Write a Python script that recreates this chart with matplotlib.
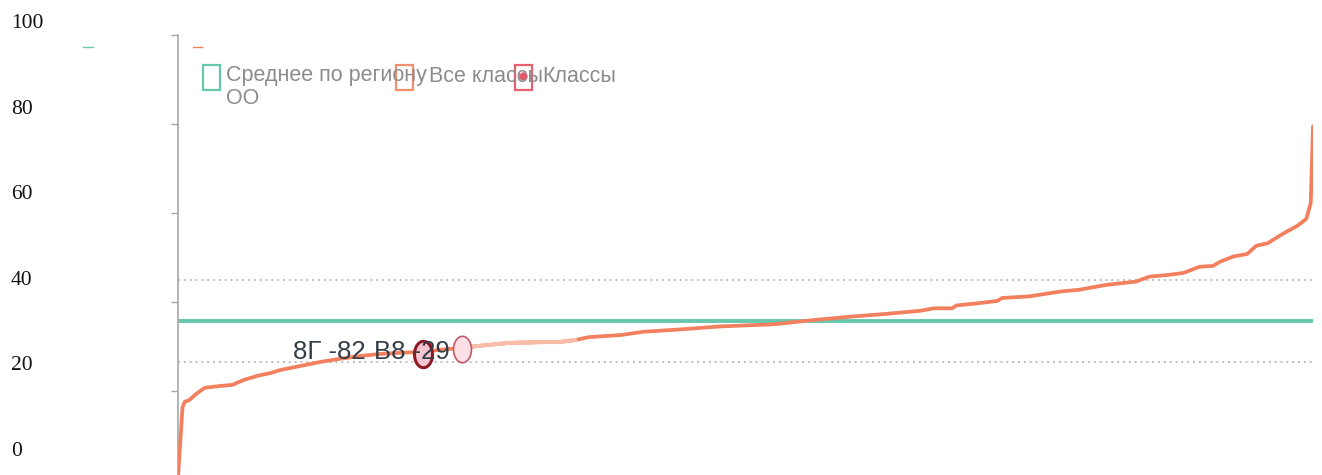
import numpy as np
import matplotlib
matplotlib.use("Agg")
import matplotlib.pyplot as plt
from matplotlib.patches import Rectangle
from matplotlib.lines import Line2D
from matplotlib.path import Path

# ---------------- data ----------------
ranks = [0, 2, 3, 5, 8, 11, 12, 18, 24, 26, 29, 35, 41, 45, 54, 63, 71, 80, 89, 98,
         108, 115, 125, 133, 146, 162, 168, 175, 181, 195, 205, 222, 239, 262, 281,
         297, 311, 327, 333, 341, 343, 352, 361, 363, 375, 389, 397, 409, 422, 428,
         436, 443, 450, 456, 459, 465, 471, 475, 480, 487, 493, 497, 499, 500]
values = [-8.0, 9.1, 10.4, 10.8, 12.3, 13.5, 13.8, 14.2, 14.5, 15.0, 15.7, 16.7, 17.4,
          18.1, 19.1, 20.1, 20.8, 21.5, 22.0, 22.3, 22.5, 23.0, 23.5, 24.0, 24.7, 24.9,
          24.9, 25.4, 26.1, 26.6, 27.4, 28.0, 28.7, 29.2, 30.3, 31.1, 31.7, 32.5, 33.1,
          33.1, 33.8, 34.3, 34.9, 35.6, 36.0, 37.2, 37.6, 38.8, 39.6, 40.8, 41.2, 41.7,
          43.2, 43.4, 44.4, 45.7, 46.3, 48.3, 48.9, 51.3, 53.1, 54.8, 58.6, 77.3]
highlight_range = (125, 175)          # lighter part of the "Все классы" line
region_mean = 30.0                    # Среднее по региону
grid_levels = [20, 40]
class_ranks = [108, 125]
class_values = [22.0, 23.1]
class_labels = ["8Г -82", "В8 -29"]
legend_labels = ["Среднее по региону", "ОО", "Все классы", "Классы"]
ytick_values = [0, 20, 40, 60, 80, 100]
ytick_labels = ["0", "20", "40", "60", "80", "100"]

# ---------------- style ----------------
W, H = 1322, 475
GREEN = "#68c8ad"
ORANGE = "#f2805f"
LIGHT = "#f8bda9"
TXT = "#8c8c8c"

fig = plt.figure(figsize=(W / 100, H / 100), dpi=100)

def fx(px):
    return px / W

def fy(py):
    return 1 - py / H

# main axes (pixel box: x 178..1313, y 35..475)
ax = fig.add_axes([fx(178), 0, fx(1313 - 178), (475 - 35) / H])
ax.set_xlim(0, 500)
ax.set_ylim(-7.4, 99.5)
for s in ["top", "right", "bottom"]:
    ax.spines[s].set_visible(False)
ax.spines["left"].set_color("#a8a8a8")
ax.spines["left"].set_linewidth(1.2)
ax.set_xticks([])
ax.set_yticks(99.5 - 21.6 * np.arange(5))
ax.set_yticklabels([])
ax.tick_params(axis="y", length=5, width=1.0, color="#a8a8a8", direction="out")

# gridlines
for g in grid_levels:
    ax.axhline(g, color="#bdbdbd", lw=1.4, ls=(0, (1, 2)), zorder=1)

# region mean
ax.axhline(region_mean, color=GREEN, lw=2.8, zorder=2)

# all classes line
r = np.array(ranks, dtype=float)
v = np.array(values, dtype=float)
ax.plot(r, v, color=ORANGE, lw=2.7, solid_joinstyle="round", solid_capstyle="round",
        zorder=3)
m = (r >= highlight_range[0]) & (r <= highlight_range[1])
ax.plot(r[m], v[m], color=LIGHT, lw=2.9, solid_joinstyle="round", zorder=3.5)

# ellipse marker
t = np.linspace(0, 2 * np.pi, 60)
ell = Path(np.column_stack([0.68 * np.cos(t), np.sin(t)]), closed=True)

ax.plot(class_ranks[0], class_values[0], marker=ell, ms=19, mfc="#f5c6d0",
        mec="#8e1a28", mew=2.2, ls="none", zorder=5)
ax.plot(class_ranks[1], class_values[1], marker=ell, ms=19, mfc="#fde0e6",
        mec="#c05a6a", mew=1.2, ls="none", zorder=5)

offsets = [(-58, 2), (-12, -3)]
for lab, cr, cv, (dx, dy) in zip(class_labels, class_ranks, class_values, offsets):
    ax.annotate(lab, xy=(cr, cv), xytext=(dx, dy), textcoords="offset pixels",
                ha="right", va="center", fontsize=18.5, color="#333d47",
                family="Liberation Sans", zorder=6)

# y labels (separate scale on the far left)
axl = fig.add_axes([fx(11), 0, 1e-6, 1])
axl.set_ylim(-26 / 4.28, (H - 26) / 4.28)
axl.set_frame_on(False)
axl.set_xticks([])
axl.yaxis.tick_right()
axl.set_yticks(ytick_values)
axl.set_yticklabels(ytick_labels, family="Liberation Serif", fontsize=15.5, color="#111111")
axl.tick_params(axis="y", length=0, pad=0)

# small dashes near the top
fig.add_artist(Line2D([fx(83), fx(93)], [fy(47), fy(47)], color=GREEN, lw=1.0))
fig.add_artist(Line2D([fx(193), fx(202)], [fy(47), fy(47)], color=ORANGE, lw=1.0))

# legend
def box(x0, col):
    fig.add_artist(Rectangle((fx(x0), fy(90)), fx(17), (90 - 65) / H,
                             transform=fig.transFigure, fill=False, ec=col, lw=1.6))

box(203, GREEN)
box(396, "#f4906f")
box(515, "#e8606e")
fig.add_artist(Line2D([fx(523)], [fy(76)], marker="o", ms=5, color="#e05a6a", lw=0))

lkw = dict(fontsize=15.5, color=TXT, family="Liberation Sans", va="center", ha="left")
fig.text(fx(226), fy(76), legend_labels[0], **lkw)
fig.text(fx(226), fy(99), legend_labels[1], **lkw)
fig.text(fx(429), fy(76), legend_labels[2], **lkw)
fig.text(fx(542), fy(76), legend_labels[3], **lkw)

fig.savefig("out.png", dpi=100)
